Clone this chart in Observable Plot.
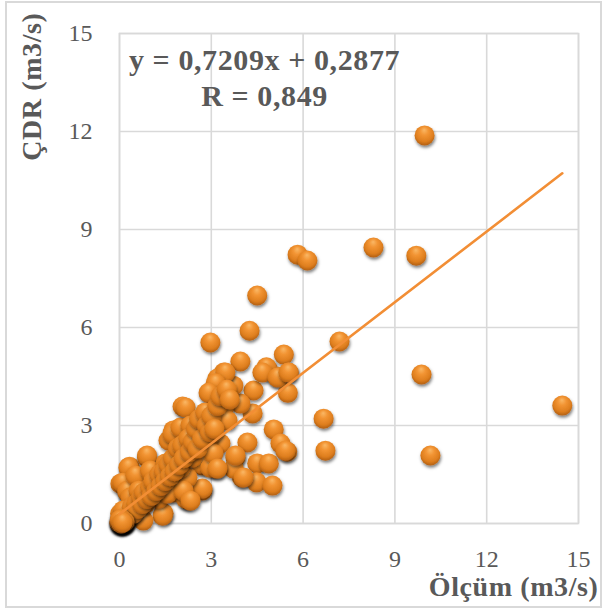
<!DOCTYPE html>
<html>
<head>
<meta charset="utf-8">
<script src="https://cdn.jsdelivr.net/npm/d3@7"></script>
<script src="https://cdn.jsdelivr.net/npm/@observablehq/plot@0.6"></script>
<style>
  html, body { margin: 0; padding: 0; background: #fff; }
  #wrap { position: relative; width: 603px; height: 610px; }
  #border { position: absolute; left: 5px; top: 1px; width: 593px; height: 603px; border: 2px solid #d9d9d9; pointer-events: none; }
</style>
</head>
<body>
<div id="wrap"><div id="border"></div></div>
<script>
const olcum = [
  9.97, 8.30, 9.70, 5.82, 6.14, 4.50, 4.25, 2.97, 7.19, 9.87, 14.47, 10.16, 6.67, 6.73,
  3.95, 5.37, 4.83, 5.15, 5.53, 5.50, 4.35, 4.38, 3.95, 3.72, 3.41, 3.20, 2.97, 3.14, 3.41,
  2.06, 5.04, 4.18, 5.48, 5.26, 4.50, 4.88, 4.00, 4.48, 5.00, 3.79, 3.73, 3.17, 2.71, 2.71,
  2.22, 1.44, 2.35, 2.65, 1.76, 1.60, 0.33, 0.03, 0.26, 0.06, 0.90, 1.11, 1.34, 1.76, 2.06,
  2.97, 3.30, 2.65,
  0.29, 0.10, 0.25, 0.03, 0.52, 0.90, 1.00, 1.28, 1.50, 1.67, 1.90, 1.73, 1.99, 2.38, 2.71,
  2.88, 2.65, 2.71, 2.16, 1.41, 0.78, 1.83, 2.22, 1.28, 0.85, 0.46, 0.36, 0.62, 1.57, 2.00,
  2.38, 2.22, 2.09, 2.97, 3.07,
  4.80, 4.67, 5.16, 5.52, 3.46, 3.14, 2.91, 2.16, 2.32, 3.07, 3.53, 5.42, 3.79, 4.05, 3.20,
  2.32, 2.81, 3.07,
  0.05, 0.10, 0.15, 0.20, 0.08, 0.25, 0.30, 0.02, 0.12, 0.35, 0.40, 0.45, 0.55, 0.60, 0.70,
  0.75, 0.80, 0.90, 1.00, 1.05, 1.10, 1.20, 1.30, 1.35, 1.45, 1.50, 1.60, 1.65, 1.75, 1.80,
  1.90, 1.95, 2.05, 2.10, 2.25, 2.30, 2.40, 2.50, 2.55, 2.60, 2.70, 2.80, 2.85, 2.95, 3.00,
  3.10, 3.20, 3.30, 3.50, 3.60,
  0.00, 0.04, 0.07, 0.11, 0.14, 0.03, 0.18, 0.06, 0.09, 0.01, 0.13, 0.05,
  0.02, 0.08, 0.00, 0.05, 0.12, 0.03, 0.16, 0.01, 0.06, 0.10
];
const cdr = [
  11.88, 8.45, 8.20, 8.23, 8.05, 6.98, 5.90, 5.54, 5.57, 4.56, 3.61, 2.08, 3.21, 2.23,
  4.96, 5.17, 4.74, 4.50, 4.62, 4.00, 3.37, 4.07, 3.67, 4.22, 4.62, 4.44, 4.00, 3.83, 3.52,
  3.58, 2.88, 2.48, 2.20, 2.45, 1.84, 1.84, 1.41, 1.26, 1.16, 2.02, 1.68, 1.68, 1.78, 1.01,
  0.73, 0.31, 2.76, 2.90, 2.85, 2.54, 1.74, 1.22, 0.95, 0.03, 2.02, 1.62, 1.26, 0.95, 1.53,
  2.23, 2.45, 2.02,
  1.71, 1.25, 1.00, 0.09, 1.47, 2.08, 1.62, 1.22, 1.84, 1.87, 2.17, 2.75, 2.94, 2.79, 2.94,
  2.54, 1.84, 1.07, 0.77, 0.24, 0.09, 1.38, 1.41, 0.77, 0.61, 0.40, 0.80, 1.00, 0.92, 1.71,
  2.02, 2.54, 1.00, 1.71, 2.14,
  4.78, 4.62, 4.47, 4.62, 4.62, 4.29, 4.00, 3.55, 3.00, 3.21, 3.15, 2.23, 2.08, 1.41, 1.68,
  0.70, 3.09, 2.79,
  0.02, 0.05, 0.12, 0.10, 0.15, 0.20, 0.35, 0.30, 0.40, 0.25, 0.50, 0.30, 0.60, 0.45, 0.80,
  0.60, 0.95, 0.75, 1.10, 0.85, 1.30, 1.00, 1.50, 1.15, 1.60, 1.30, 1.80, 1.45, 2.00, 1.60,
  2.30, 1.80, 2.40, 2.00, 2.60, 2.20, 2.50, 2.90, 2.30, 3.20, 2.60, 3.40, 3.00, 2.80, 3.30,
  2.90, 3.60, 3.90, 4.10, 3.80,
  0.00, 0.03, 0.06, 0.02, 0.08, 0.10, 0.04, 0.12, 0.01, 0.05, 0.07, 0.14,
  0.01, 0.00, 0.04, 0.06, 0.02, 0.09, 0.05, 0.11, 0.00, 0.03
];
const points = olcum.map((x, i) => ({x, y: cdr[i]}));

// Trend line: y = 0,7209x + 0,2877 (drawn over the measured range)
const slope = 0.7209, intercept = 0.2877;
const trendX = [0, 14.47];
const trend = trendX.map(x => ({x, y: slope * x + intercept}));

const xTicks = [0, 3, 6, 9, 12, 15];
const yTicks = [0, 3, 6, 9, 12, 15];
const equationText = "y = 0,7209x + 0,2877\nR = 0,849";
const xTitle = "Ölçüm (m3/s)";
const yTitle = "ÇDR (m3/s)";

const serif = "'Liberation Serif', 'Times New Roman', serif";

const chart = Plot.plot({
  width: 603,
  height: 610,
  marginLeft: 119,
  marginRight: 25,
  marginTop: 33,
  marginBottom: 87,
  x: {domain: [0, 15]},
  y: {domain: [0, 15]},
  style: {fontFamily: serif, color: "#595959", background: "transparent", overflow: "visible"},
  marks: [
    Plot.gridX(xTicks, {stroke: "#d9d9d9", strokeOpacity: 1, strokeWidth: 1.6}),
    Plot.gridY(yTicks, {stroke: "#d9d9d9", strokeOpacity: 1, strokeWidth: 1.6}),
    Plot.frame({stroke: "#d9d9d9", strokeWidth: 1.6}),
    Plot.axisX(xTicks, {tickSize: 0, tickPadding: 26, fontSize: 24, label: null, fill: "#595959"}),
    Plot.axisY(yTicks, {tickSize: 0, tickPadding: 27, fontSize: 24, label: null, fill: "#595959"}),
    Plot.dot(points, {x: "x", y: "y", r: 10, fill: "url(#ball)", stroke: "none"}),
    Plot.line(trend, {x: "x", y: "y", stroke: "#F28E35", strokeWidth: 2.6}),
    Plot.text([equationText], {frameAnchor: "top-left", dx: 145, dy: 43, text: d => d,
      fontSize: 30, fontWeight: "bold", fill: "#595959", textAnchor: "middle", lineAnchor: "middle", lineHeight: 1.18}),
    Plot.text([yTitle], {frameAnchor: "top-left", dx: -87, dy: -21, text: d => d, rotate: -90,
      fontSize: 28, fontWeight: "bold", fill: "#595959", textAnchor: "end", lineAnchor: "middle"}),
    Plot.text([xTitle], {frameAnchor: "bottom-right", dx: 20, dy: 64, text: d => d,
      fontSize: 28, fontWeight: "bold", fill: "#595959", textAnchor: "end", lineAnchor: "middle"})
  ]
});

// sphere shading + drop shadow definitions
const defs = d3.select(chart).insert("defs", ":first-child");
const g = defs.append("radialGradient").attr("id", "ball")
  .attr("cx", "50%").attr("cy", "40%").attr("r", "60%").attr("fx", "48%").attr("fy", "22%");
g.append("stop").attr("offset", "0%").attr("stop-color", "#FAB866");
g.append("stop").attr("offset", "35%").attr("stop-color", "#F29433");
g.append("stop").attr("offset", "75%").attr("stop-color", "#DE7E1E");
g.append("stop").attr("offset", "100%").attr("stop-color", "#B25F12");
const f = defs.append("filter").attr("id", "shadow").attr("x", "-50%").attr("y", "-50%").attr("width", "200%").attr("height", "200%");
f.append("feDropShadow").attr("dx", 0.8).attr("dy", 2.2).attr("stdDeviation", 1.6)
  .attr("flood-color", "#000").attr("flood-opacity", 0.5);
d3.select(chart).selectAll("circle").attr("filter", "url(#shadow)");
d3.select(chart).selectAll("text").style("letter-spacing", function() {
  const fs = parseFloat(d3.select(this.closest("g")).attr("font-size") || 0);
  return fs >= 28 ? "0.6px" : null;
});

document.getElementById("wrap").prepend(chart);
</script>
</body>
</html>
